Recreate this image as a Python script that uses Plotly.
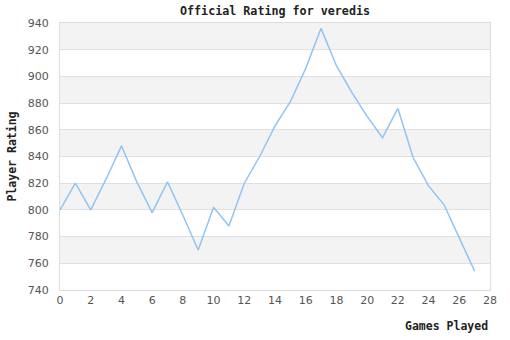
import plotly.graph_objects as go

# Official rating after each game
games = list(range(28))
rating = [800, 820, 800, 823, 848, 821, 798, 821, 796, 770,
          802, 788, 820, 840, 863, 881, 906, 936, 908, 888,
          870, 854, 876, 839, 818, 804, 779, 754]

y_ticks = list(range(740, 941, 20))
x_ticks = list(range(0, 29, 2))

title_text = "Official Rating for veredis"
x_title = "Games Played"
y_title = "Player Rating"

line_color = "#90c4f4"
band_color = "#f3f3f3"
grid_color = "#e0e0e0"
mono = "DejaVu Sans Mono"

fig = go.Figure()
fig.add_trace(go.Scatter(
    x=games, y=rating, mode="lines",
    line=dict(color=line_color, width=1.5),
    hoverinfo="x+y", showlegend=False,
))

# alternating horizontal bands between grid lines
shapes = []
for i in range(len(y_ticks) - 1):
    if (len(y_ticks) - 2 - i) % 2 == 0:
        shapes.append(dict(
            type="rect", xref="paper", yref="y", layer="below",
            x0=0, x1=1, y0=y_ticks[i], y1=y_ticks[i + 1],
            fillcolor=band_color, line=dict(width=0),
        ))

fig.update_layout(
    width=510, height=340,
    margin=dict(l=60, r=20, t=23, b=50),
    paper_bgcolor="white", plot_bgcolor="white",
    shapes=shapes,
    font=dict(family="DejaVu Sans, Verdana, sans-serif", size=11, color="#555555"),
    title=dict(text=title_text, x=0.5, xanchor="center", xref="paper",
               y=1, yref="container", yanchor="top", pad=dict(t=7),
               font=dict(family=mono, size=11.7, color="#222222", weight="bold")),
    xaxis=dict(range=[0, 28.0001], tickvals=x_ticks, ticktext=[str(v) for v in x_ticks],
               showgrid=False, zeroline=False, ticklabeloverflow="allow",
               showline=True, linecolor="#dddddd", linewidth=1, mirror=True,
               ticks="", ticklen=0, fixedrange=True),
    yaxis=dict(range=[740, 940], tickvals=y_ticks, showgrid=True,
               gridcolor=grid_color, gridwidth=1, zeroline=False,
               showline=True, linecolor="#dddddd", linewidth=1, mirror=True,
               ticks="outside", ticklen=8, tickcolor="rgba(0,0,0,0)",
               fixedrange=True),
    annotations=[
        dict(text=x_title, xref="paper", yref="paper", x=1, y=-0.0,
             xanchor="right", yanchor="top", yshift=-27, showarrow=False,
             font=dict(family=mono, size=11.5, color="#222222", weight="bold")),
        dict(text=y_title, xref="paper", yref="paper", x=0, y=0.5,
             xanchor="center", yanchor="middle", xshift=-49, textangle=-90,
             showarrow=False,
             font=dict(family=mono, size=11.5, color="#222222", weight="bold")),
    ],
)

fig.write_html("out.html")
